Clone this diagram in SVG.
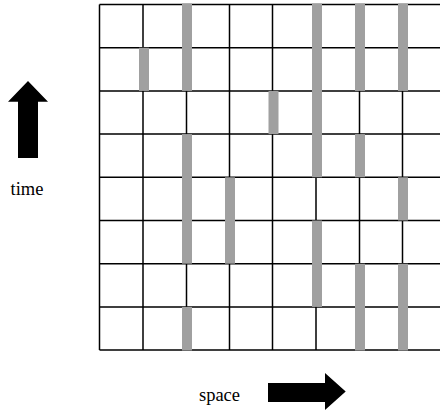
<svg xmlns="http://www.w3.org/2000/svg" width="440" height="411" viewBox="0 0 440 411">
<style>
.g{stroke:#000;stroke-width:1.5;fill:none}
.b{fill:#a0a0a0}
.a{fill:#000}
</style>
<rect width="440" height="411" fill="#fff"/>
<g id="grid" class="g">
<path d="M99.5 4.5H440M99.5 47.7H440M99.5 90.9H440M99.5 134.1H440M99.5 177.3H440M99.5 220.5H440M99.5 263.7H440M99.5 306.9H440M99.5 350H440"/>
<path d="M99.5 4.5V350M143 4.5V350M186.5 4.5V350M229.5 4.5V350M272.5 4.5V350M316 4.5V350M359.5 4.5V350M402.5 4.5V350"/>
</g>
<g id="bars" class="b">
<rect x="139" y="47.7" width="10" height="43.2"/>
<rect x="182" y="3.5" width="10" height="87.4"/>
<rect x="182" y="134.1" width="10" height="129.6"/>
<rect x="182" y="306.9" width="10" height="43.6"/>
<rect x="225" y="177.3" width="10" height="86.4"/>
<rect x="268.5" y="90.9" width="10" height="43.2"/>
<rect x="312" y="3.5" width="10" height="173.8"/>
<rect x="312" y="220.5" width="10" height="86.4"/>
<rect x="355" y="3.5" width="10" height="87.4"/>
<rect x="355" y="134.1" width="10" height="43.2"/>
<rect x="355" y="263.7" width="10" height="86.8"/>
<rect x="398" y="3.5" width="10" height="87.4"/>
<rect x="398" y="177.3" width="10" height="43.2"/>
<rect x="398" y="263.7" width="10" height="86.8"/>
</g>
<g id="time-axis">
<polygon class="a" points="8,101.7 28,81 48,101.7 38,101.7 38,158 18,158 18,101.7"/>
<text x="27" y="195" text-anchor="middle" font-family="Liberation Serif, DejaVu Serif, serif" font-size="18.5" fill="#000">time</text>
</g>
<g id="space-axis">
<polygon class="a" points="268,383 325,383 325,373 345.7,391.5 325,410 325,402 268,402"/>
<text x="219.5" y="401" text-anchor="middle" font-family="Liberation Serif, DejaVu Serif, serif" font-size="18.5" fill="#000">space</text>
</g>
</svg>
